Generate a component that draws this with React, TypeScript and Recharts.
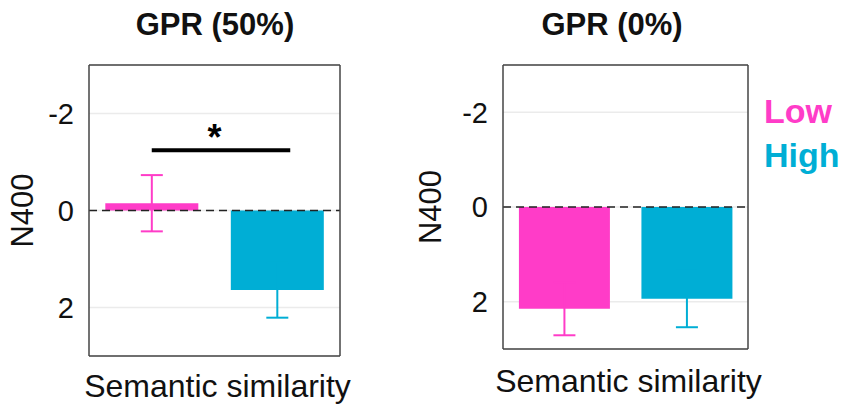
import React from "react";
import {
  BarChart,
  Bar,
  Cell,
  XAxis,
  YAxis,
  CartesianGrid,
  ReferenceLine,
  ErrorBar,
} from "recharts";

// similarity levels and their colours
const conditions = ["Low", "High"];
const colors = ["#ff3cc8", "#00aed5"];

// N400 means (µV) and error bars
const gpr50Mean = [-0.15, 1.64];
const gpr50Err = [0.58, 0.57];
const gpr0Mean = [2.15, 1.94];
const gpr0Err = [0.56, 0.6];

const yTicks = [-2, 0, 2];
const sigLevel = -1.24;

const font = "'Liberation Sans', Arial, sans-serif";

const buildRows = (means: number[], errs: number[]) =>
  conditions.map((cond, i) => ({
    cond,
    mean: means[i],
    lowErr: i === 0 ? errs[i] : undefined,
    highErr: i === 1 ? errs[i] : undefined,
  }));

interface PanelProps {
  means: number[];
  errs: number[];
  width: number;
  height: number;
  margin: { top: number; right: number; bottom: number; left: number };
  yAxisWidth: number;
  xAxisHeight: number;
  yLabelOffset: number;
  xLabelOffset: number;
  showSig?: boolean;
}

const frame = { stroke: "#444", strokeWidth: 1.5 };

const Panel = ({
  means,
  errs,
  width,
  height,
  margin,
  yAxisWidth,
  xAxisHeight,
  yLabelOffset,
  xLabelOffset,
  showSig,
}: PanelProps) => {
  const data = buildRows(means, errs);
  return (
    <BarChart
      width={width}
      height={height}
      data={data}
      margin={margin}
      barCategoryGap="13%"
      style={{ fontFamily: font }}
    >
      <CartesianGrid vertical={false} stroke="#ebebeb" strokeWidth={1.5} />
      <XAxis
        dataKey="cond"
        tick={false}
        tickLine={false}
        axisLine={frame}
        height={xAxisHeight}
        label={{
          value: "Semantic similarity",
          position: "insideBottom",
          offset: xLabelOffset,
          dx: 3,
          fill: "#111",
          fontSize: 32,
        }}
      />
      {/* top and right edges of the box */}
      <XAxis
        xAxisId="top"
        dataKey="cond"
        orientation="top"
        height={1}
        tick={false}
        tickLine={false}
        axisLine={frame}
      />
      <YAxis
        reversed
        domain={[-3, 3]}
        ticks={yTicks}
        width={yAxisWidth}
        tickLine={false}
        tickSize={0}
        tickMargin={15}
        axisLine={frame}
        tick={{ fill: "#111", fontSize: 29 }}
        label={{
          value: "N400",
          angle: -90,
          position: "insideLeft",
          offset: yLabelOffset,
          fill: "#111",
          fontSize: 31,
          style: { textAnchor: "middle" },
        }}
      />
      <YAxis
        yAxisId="right"
        orientation="right"
        reversed
        domain={[-3, 3]}
        width={1}
        tick={false}
        tickLine={false}
        axisLine={frame}
      />
      <ReferenceLine y={0} stroke="#222" strokeWidth={1.5} strokeDasharray="8 5" />
      <Bar dataKey="mean" isAnimationActive={false}>
        {data.map((d, i) => (
          <Cell key={d.cond} fill={colors[i]} />
        ))}
        <ErrorBar dataKey="lowErr" width={11} strokeWidth={2} stroke={colors[0]} direction="y" />
        <ErrorBar dataKey="highErr" width={11} strokeWidth={2} stroke={colors[1]} direction="y" />
      </Bar>
      {showSig && (
        <ReferenceLine
          segment={[
            { x: conditions[0], y: sigLevel },
            { x: conditions[1], y: sigLevel },
          ]}
          stroke="#000"
          strokeWidth={4}
          shape={(p: any) => (
            <line x1={p.x1} y1={p.y1} x2={p.x2 + 13} y2={p.y2} stroke="#000" strokeWidth={4} />
          )}
          label={{
            value: "*",
            position: "top",
            offset: 0,
            fill: "#000",
            fontSize: 36,
            fontWeight: "bold",
          }}
        />
      )}
    </BarChart>
  );
};

const titleStyle: React.CSSProperties = {
  position: "absolute",
  top: 9,
  fontFamily: font,
  fontWeight: "bold",
  fontSize: 31,
  lineHeight: "31px",
  textAlign: "center",
  color: "#111",
};

export default function App() {
  return (
    <div
      style={{
        position: "absolute",
        left: 0,
        top: 0,
        width: 841,
        height: 406,
        background: "#fff",
        overflow: "hidden",
      }}
    >
      <div style={{ ...titleStyle, left: 115, width: 200 }}>GPR (50%)</div>
      <div style={{ ...titleStyle, left: 512, width: 200 }}>GPR (0%)</div>

      <div style={{ position: "absolute", left: 0, top: 0 }}>
        <Panel
          means={gpr50Mean}
          errs={gpr50Err}
          width={360}
          height={406}
          margin={{ top: 64, right: 19, bottom: 0, left: 0 }}
          yAxisWidth={89}
          xAxisHeight={50}
          yLabelOffset={22}
          xLabelOffset={9}
          showSig
        />
      </div>

      <div style={{ position: "absolute", left: 400, top: 0 }}>
        <Panel
          means={gpr0Mean}
          errs={gpr0Err}
          width={441}
          height={406}
          margin={{ top: 64, right: 92, bottom: 0, left: 0 }}
          yAxisWidth={103}
          xAxisHeight={57}
          yLabelOffset={30}
          xLabelOffset={14}
        />
      </div>

      {conditions.map((c, i) => (
        <div
          key={c}
          style={{
            position: "absolute",
            left: 764,
            top: 94 + i * 44,
            fontFamily: font,
            fontWeight: "bold",
            fontSize: 34,
            lineHeight: "34px",
            color: colors[i],
          }}
        >
          {c}
        </div>
      ))}
    </div>
  );
}
